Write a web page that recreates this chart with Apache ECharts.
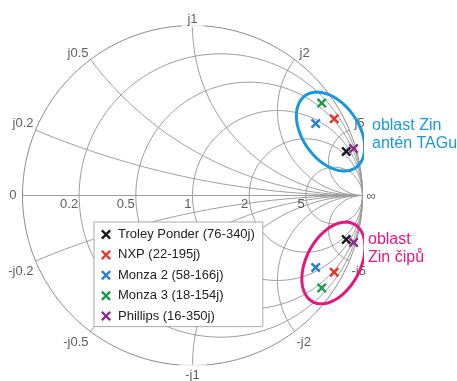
<!DOCTYPE html>
<html>
<head>
<meta charset="utf-8">
<script src="https://cdn.jsdelivr.net/npm/echarts@6/dist/echarts.min.js"></script>
<style>
  html, body { margin: 0; padding: 0; background: #fff; }
  #chart { width: 457px; height: 381px; }
</style>
</head>
<body>
<div id="chart"></div>
<script>
// Reference impedance of the Smith chart (ohms)
const Z0 = 50;

// Chip input impedances R + jX (ohms); the matching antenna is the conjugate
const chipNames = ['Troley Ponder', 'NXP', 'Monza 2', 'Monza 3', 'Phillips'];
const chipR = [76, 22, 58, 18, 16];
const chipX = [-340, -195, -166, -154, -350];
const chipColors = ['#1a1a1a', '#e8352b', '#2a80c8', '#1a9a4c', '#8c2a8a'];

// Normalised grid values and their tick labels
const resistanceTicks = [0.2, 0.5, 1, 2, 5];
const resistanceLabels = ['0.2', '0.5', '1', '2', '5'];
const reactanceTicks = [0.2, 0.5, 1, 2, 5];
const reactanceLabels = ['j0.2', 'j0.5', 'j1', 'j2', 'j5'];

const FONT = '"Liberation Sans", Arial, Helvetica, sans-serif';
const GRID_COLOR = '#9c9c9c';
const RIM_COLOR = '#8a8a8a';
const CROSS = 'path://M0,1.7L1.7,0L5,3.3L8.3,0L10,1.7L6.7,5L10,8.3L8.3,10L5,6.7L1.7,10L0,8.3L3.3,5Z';

// Reflection coefficient of a normalised impedance r + jx
function gamma(r, x) {
  if (!isFinite(r) || !isFinite(x)) return [1, 0];
  const d = (r + 1) * (r + 1) + x * x;
  return [(r * r - 1 + x * x) / d, (2 * x) / d];
}

const STEPS = 240;
// Constant-resistance circle
function resistanceCurve(r) {
  const pts = [];
  for (let i = 0; i <= STEPS; i++) {
    const s = -Math.PI / 2 + Math.PI * i / STEPS;
    pts.push(gamma(r, (i === 0 || i === STEPS) ? Infinity : Math.tan(s)));
  }
  return pts;
}
// Constant-reactance arc
function reactanceCurve(x) {
  const pts = [];
  for (let i = 0; i <= STEPS; i++) {
    const s = (Math.PI / 2) * i / STEPS;
    pts.push(gamma(i === STEPS ? Infinity : Math.tan(s), x));
  }
  return pts;
}

function gridLine(data, color) {
  return {
    type: 'line', data: data, showSymbol: false, symbol: 'none', silent: true,
    smooth: false, z: 1, lineStyle: { color: color, width: 1 }, animation: false
  };
}

const series = [];
// Outer rim (r = 0) and real axis
series.push(gridLine(resistanceCurve(0), RIM_COLOR));
series.push(gridLine([gamma(0, 0), gamma(Infinity, 0)], GRID_COLOR));
resistanceTicks.forEach(r => series.push(gridLine(resistanceCurve(r), GRID_COLOR)));
reactanceTicks.forEach(x => {
  series.push(gridLine(reactanceCurve(x), GRID_COLOR));
  series.push(gridLine(reactanceCurve(-x), GRID_COLOR));
});

// Tick labels anchored on the chart
const labelItems = [];
function addLabel(pt, text, label) {
  labelItems.push({ value: pt, label: Object.assign({ show: true, formatter: text, position: 'inside' }, label) });
}
addLabel(gamma(0, 0), '0', { align: 'right', verticalAlign: 'middle', offset: [-6, 0] });
addLabel(gamma(Infinity, 0), '\u221e', { align: 'left', verticalAlign: 'middle', offset: [4, 1] });
resistanceTicks.forEach((r, i) => {
  addLabel(gamma(r, 0), resistanceLabels[i], { align: 'right', verticalAlign: 'top', offset: [-1, 2] });
});
reactanceTicks.forEach((x, i) => {
  const up = gamma(0, x), dn = gamma(0, -x);
  const txt = reactanceLabels[i];
  if (Math.abs(up[0]) < 0.01) {
    addLabel(up, txt, { align: 'center', verticalAlign: 'bottom', offset: [0, 2],
      backgroundColor: '#fff', padding: [0, 6, 2, 6] });
    addLabel(dn, '-' + txt, { align: 'center', verticalAlign: 'top', offset: [0, -1],
      backgroundColor: '#fff', padding: [4, 7, 0, 7] });
  } else if (up[0] < 0) {
    addLabel(up, txt, { align: 'right', verticalAlign: 'bottom', offset: [-2, 0] });
    addLabel(dn, '-' + txt, { align: 'right', verticalAlign: 'top', offset: [-2, 4] });
  } else {
    addLabel(up, txt, { align: 'left', verticalAlign: 'bottom', offset: [5, 0] });
    addLabel(dn, '-' + txt, { align: 'left', verticalAlign: 'top', offset: [2, 4] });
  }
});
series.push({
  type: 'scatter', data: labelItems, symbolSize: 0.1, silent: true, z: 2,
  itemStyle: { color: 'transparent' },
  label: { color: '#333', fontFamily: FONT, fontSize: 13 },
  animation: false
});

// Region outlines (ellipse centre and semi-axes in reflection-coefficient units)
function ellipse(cx, cy, a, b, angleDeg) {
  const phi = angleDeg * Math.PI / 180, pts = [];
  for (let i = 0; i <= 180; i++) {
    const t = 2 * Math.PI * i / 180;
    const u = a * Math.cos(t), v = b * Math.sin(t);
    pts.push([cx + u * Math.cos(phi) - v * Math.sin(phi), cy + u * Math.sin(phi) + v * Math.cos(phi)]);
  }
  return pts;
}
const ANTENNA_BLUE = '#1a98d8';
const CHIP_MAGENTA = '#e0187f';
series.push({
  type: 'line', data: ellipse(0.812, 0.376, 0.259, 0.165, -55), showSymbol: false, symbol: 'none',
  silent: true, z: 3, lineStyle: { color: ANTENNA_BLUE, width: 3 }, animation: false
});
series.push({
  type: 'line', data: ellipse(0.829, -0.397, 0.259, 0.159, 62), showSymbol: false, symbol: 'none',
  silent: true, z: 3, lineStyle: { color: CHIP_MAGENTA, width: 3 }, animation: false
});

// Chip impedances and the conjugate antenna impedances
const legendNames = [];
chipNames.forEach((n, i) => {
  const name = n + ' (' + chipR[i] + (chipX[i] < 0 ? '' : '+') + chipX[i] + 'j)';
  legendNames.push(name);
  const r = chipR[i] / Z0, x = chipX[i] / Z0;
  series.push({
    type: 'scatter', name: name, z: 4,
    data: [gamma(r, x), gamma(r, -x)],
    symbol: CROSS, symbolSize: 10,
    itemStyle: { color: chipColors[i], opacity: 1 },
    animation: false
  });
});

const chart = echarts.init(document.getElementById('chart'), null, { renderer: 'canvas' });
chart.setOption({
  animation: false,
  backgroundColor: '#fff',
  grid: { left: 22.5, top: 25.5, width: 340, height: 340, containLabel: false },
  xAxis: { type: 'value', min: -1, max: 1, show: false },
  yAxis: { type: 'value', min: -1, max: 1, show: false },
  legend: {
    orient: 'vertical', left: 94, top: 222,
    backgroundColor: '#fff', borderColor: '#aaa', borderWidth: 1,
    padding: [6, 8, 4, 7],
    itemWidth: 10, itemHeight: 10, itemGap: 7.4,
    selectedMode: false,
    itemStyle: { opacity: 1 },
    textStyle: { fontFamily: FONT, fontSize: 13, color: '#222', lineHeight: 13, padding: [0, 0, 0, 2] },
    data: legendNames.map(n => ({ name: n, icon: CROSS }))
  },
  graphic: [
    { type: 'text', left: 372, top: 117, z: 10,
      style: { text: 'oblast Zin\nantén TAGu', font: '16px ' + FONT, fill: ANTENNA_BLUE, lineHeight: 18 } },
    { type: 'text', left: 368, top: 230, z: 10,
      style: { text: 'oblast\nZin čipů', font: '16px ' + FONT, fill: CHIP_MAGENTA, lineHeight: 18.5 } }
  ],
  series: series
});
</script>
</body>
</html>
